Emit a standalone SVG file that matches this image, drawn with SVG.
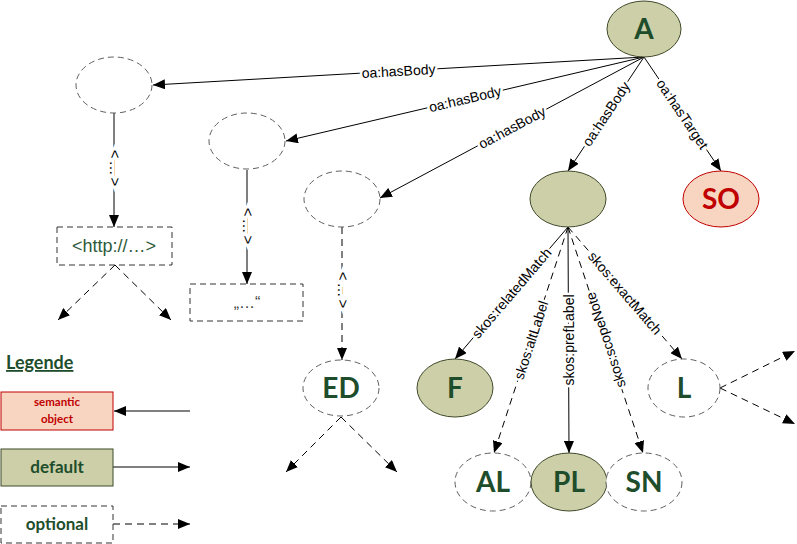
<svg xmlns="http://www.w3.org/2000/svg" width="797" height="544" viewBox="0 0 797 544">
<defs>
<marker id="arr" viewBox="0 0 12 10" refX="12" refY="5" markerWidth="12" markerHeight="10" orient="auto" markerUnits="userSpaceOnUse">
<path d="M0,0 L12,5 L0,10 z" fill="#000"/>
</marker>
</defs>
<style>
.def{fill:#cdcfa8;stroke:#3f4a2a;stroke-width:1}
.opt{fill:#fff;stroke:#606060;stroke-width:1;stroke-dasharray:6 4}
.sem{fill:#f8d5c0;stroke:#c00000;stroke-width:1}
.optbox{fill:#fff;stroke:#333;stroke-width:1;stroke-dasharray:6 4}
.nl{font-family:Lato,"Liberation Sans",sans-serif;font-weight:bold;font-size:28px;fill:#1e4d2b;text-anchor:middle}
.sl{fill:#c00000}
.c{stroke:#000;stroke-width:1;fill:none;marker-end:url(#arr)}
.d{stroke-dasharray:7 5}
.lbl{font-family:"Liberation Sans",Arial,sans-serif;font-size:14px;fill:#000;text-anchor:middle;dominant-baseline:central;stroke:#fff;stroke-width:5;paint-order:stroke}
.ell{font-family:"Liberation Sans",Arial,sans-serif;font-size:15px;letter-spacing:2px;fill:#000;text-anchor:middle;dominant-baseline:central;stroke:#fff;stroke-width:6;paint-order:stroke}
.lg{font-family:Lato,"Liberation Sans",sans-serif;font-weight:bold;text-anchor:middle}
</style>
<g id="connectors">
<line class="c" x1="644" y1="57" x2="153" y2="85"/>
<line class="c" x1="644" y1="57" x2="286" y2="141"/>
<line class="c" x1="644" y1="57" x2="380" y2="198"/>
<line class="c" x1="644" y1="57" x2="568" y2="171"/>
<line class="c" x1="644" y1="57" x2="721" y2="171"/>
<text class="lbl" transform="translate(398.5,71) rotate(-3.26)">oa:hasBody</text>
<text class="lbl" transform="translate(465,99) rotate(-13.2)">oa:hasBody</text>
<text class="lbl" transform="translate(512,127.5) rotate(-28.1)">oa:hasBody</text>
<text class="lbl" transform="translate(606,114) rotate(-56.3)">oa:hasBody</text>
<text class="lbl" transform="translate(682.5,114) rotate(56)">oa:hasTarget</text>

<line class="c" x1="114" y1="113" x2="114" y2="227"/>
<text class="ell" transform="translate(115,169) rotate(90)">&lt;…&gt;</text>
<line class="c" x1="247" y1="170" x2="247" y2="284"/>
<text class="ell" transform="translate(248,227) rotate(90)">&lt;…&gt;</text>
<line class="c d" x1="342" y1="227" x2="342" y2="360"/>
<text class="ell" transform="translate(343,291) rotate(90)">&lt;…&gt;</text>

<line class="c d" x1="115" y1="265" x2="58" y2="320"/>
<line class="c d" x1="115" y1="265" x2="171" y2="320"/>
<line class="c d" x1="341" y1="417" x2="286" y2="472"/>
<line class="c d" x1="341" y1="417" x2="397" y2="472"/>
<line class="c d" x1="720" y1="388" x2="795" y2="351"/>
<line class="c d" x1="720" y1="388" x2="795" y2="424"/>

<line class="c" x1="568" y1="227" x2="455" y2="359"/>
<line class="c d" x1="568" y1="227" x2="494" y2="453"/>
<line class="c" x1="568" y1="227" x2="569" y2="453"/>
<line class="c d" x1="568" y1="227" x2="643" y2="453"/>
<line class="c d" x1="568" y1="227" x2="682" y2="359"/>
<text class="lbl" transform="translate(511.5,293) rotate(-49.4)">skos:relatedMatch</text>
<text class="lbl" transform="translate(531,340) rotate(-71.9)">skos:altLabel</text>
<text class="lbl" transform="translate(568.5,340) rotate(-90)">skos:prefLabel</text>
<text class="lbl" transform="translate(605.5,340) rotate(-108.4)">skos:scopeNote</text>
<text class="lbl" transform="translate(625,293) rotate(49.2)">skos:exactMatch</text>

<line class="c" x1="190" y1="411" x2="114" y2="411"/>
<line class="c" x1="113" y1="467" x2="190" y2="467"/>
<line class="c d" x1="113" y1="524" x2="190" y2="524"/>
</g>
<g id="node-A"><ellipse class="def" cx="644" cy="29" rx="37" ry="28"/><text class="nl" x="644" y="39">A</text></g>
<g id="node-body1"><ellipse class="opt" cx="114" cy="85" rx="38" ry="28"/></g>
<g id="node-body2"><ellipse class="opt" cx="247" cy="141" rx="38" ry="28"/></g>
<g id="node-body3"><ellipse class="opt" cx="342" cy="199" rx="38" ry="28"/></g>
<g id="node-body4"><ellipse class="def" cx="568" cy="199" rx="38" ry="28"/></g>
<g id="node-SO"><ellipse class="sem" cx="721" cy="199" rx="38" ry="28"/><text class="nl sl" x="721" y="209">SO</text></g>
<g id="node-http"><rect class="optbox" x="57" y="227" width="115" height="38"/><text x="114" y="252" font-family="Liberation Sans,Arial,sans-serif" font-size="18" fill="#2e5a3a" text-anchor="middle">&lt;http://…&gt;</text></g>
<g id="node-literal"><rect class="optbox" x="190" y="284" width="113" height="37"/><text x="247" y="308" font-family="Liberation Sans,Arial,sans-serif" font-size="16" fill="#404040" text-anchor="middle">„…“</text></g>
<g id="node-ED"><ellipse class="opt" cx="341" cy="388" rx="38" ry="28"/><text class="nl" x="341" y="398">ED</text></g>
<g id="node-F"><ellipse class="def" cx="455" cy="388" rx="38" ry="29"/><text class="nl" x="455" y="398">F</text></g>
<g id="node-L"><ellipse class="opt" cx="684" cy="388" rx="36" ry="29"/><text class="nl" x="684" y="398">L</text></g>
<g id="node-AL"><ellipse class="opt" cx="493" cy="482" rx="38" ry="29"/><text class="nl" x="493" y="492">AL</text></g>
<g id="node-PL"><ellipse class="def" cx="569" cy="482" rx="38" ry="29"/><text class="nl" x="569" y="492">PL</text></g>
<g id="node-SN"><ellipse class="opt" cx="644" cy="482" rx="38" ry="29"/><text class="nl" x="644" y="492">SN</text></g>
<g id="legend">
<text x="6" y="369" font-family="Lato,Liberation Sans,sans-serif" font-weight="bold" font-size="18" fill="#1e4d2b" text-decoration="underline">Legende</text>
<rect class="sem" x="1" y="392" width="112" height="38"/>
<text class="lg" x="57" y="406" font-size="11.5" fill="#c00000">semantic</text>
<text class="lg" x="57" y="423" font-size="11.5" fill="#c00000">object</text>
<rect class="def" x="1" y="449" width="112" height="37"/>
<text class="lg" x="57" y="473" font-size="17" fill="#1e4d2b">default</text>
<rect class="optbox" x="1" y="506" width="112" height="37"/>
<text class="lg" x="57" y="530" font-size="17" fill="#1e4d2b">optional</text>
</g>
</svg>
